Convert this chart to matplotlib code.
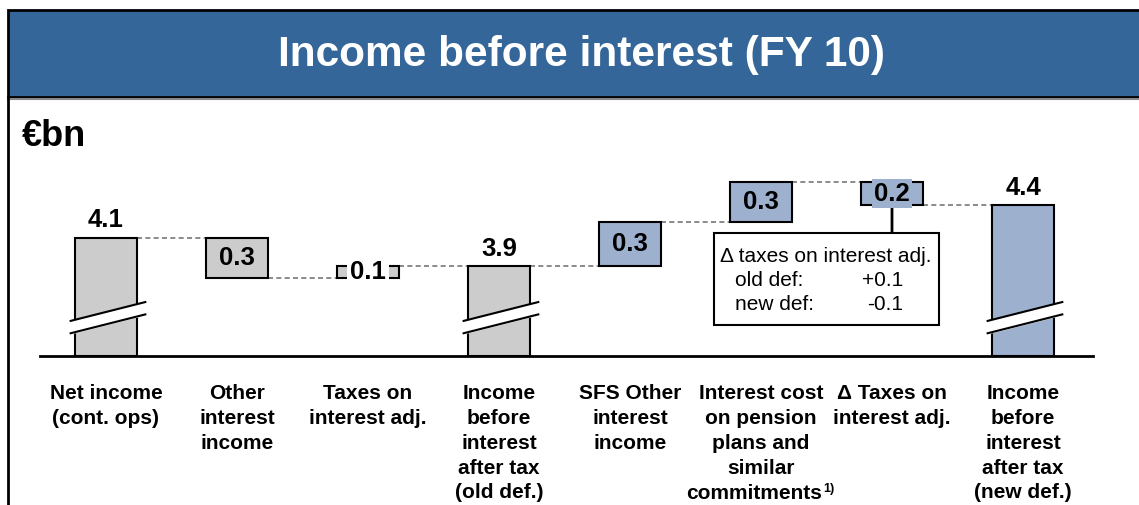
import matplotlib.pyplot as plt
import matplotlib.transforms as mtransforms
from matplotlib.patches import Rectangle, ConnectionPatch

plt.rcParams['font.family'] = ['Liberation Sans', 'DejaVu Sans']

# data (EUR bn)
categories = ['Net income\n(cont. ops)', 'Other\ninterest\nincome', 'Taxes on\ninterest adj.',
              'Income\nbefore\ninterest\nafter tax\n(old def.)', 'SFS Other\ninterest\nincome',
              'Interest cost\non pension\nplans and\nsimilar\ncommitments',
              '\u0394 Taxes on\ninterest adj.', 'Income\nbefore\ninterest\nafter tax\n(new def.)']
footnote_cat = 5
values = [4.12, -0.31, 0.09, 3.90, 0.34, 0.31, -0.18, 4.37]
is_total = [True, False, False, True, False, False, False, True]
value_labels = ['4.1', '0.3', '0.1', '3.9', '0.3', '0.3', '0.2', '4.4']
bar_colors = ['#cccccc', '#cccccc', '#cccccc', '#cccccc', '#9db0ce', '#9db0ce', '#9db0ce', '#9db0ce']
small_steps = [2, 6]   # labels drawn over the box
note_title = '\u0394 taxes on interest adj.'
note_names = ['old def:', 'new def:']
note_values = ['+0.1', '-0.1']

cut = 3.21        # axis break value
W, H = 1139, 505

fig = plt.figure(figsize=(W / 100, H / 100), dpi=100)

# header bar and frame
fig.patches.append(Rectangle((8 / W, 1 - 97 / H), 1.0, 87 / H, transform=fig.transFigure,
                             facecolor='#346699', edgecolor='black', linewidth=2))
fig.lines.append(plt.Line2D([8 / W, 1], [1 - 99 / H] * 2, transform=fig.transFigure,
                            color='#888888', linewidth=1.5))
fig.lines.append(plt.Line2D([8 / W, 8 / W], [0, 1 - 97 / H], transform=fig.transFigure,
                            color='black', linewidth=2))
fig.text(582 / W, 1 - 55 / H, 'Income before interest (FY 10)', color='white',
         fontsize=30.5, fontweight='bold', ha='center', va='center')
fig.text(22 / W, 1 - 137 / H, '\u20acbn', fontsize=26, fontweight='bold', ha='left', va='center')

step = 131.0
x0 = 106.0
ax = fig.add_axes([0, (H - 356) / H, 1, 196 / H])
ax.set_xlim(-x0 / step, (W - x0) / step)
ax.set_ylim(cut, cut + 196 / 130)
ax.axis('off')
ax.axhline(cut, xmin=40 / W, xmax=1093 / W, color='black', linewidth=2, clip_on=False)

width = 0.47
level = 0.0
tops = []
for i, v in enumerate(values):
    if is_total[i]:
        bottom, top = cut, v
        level = v
    else:
        prev = level
        level = level + v
        bottom, top = min(prev, level), max(prev, level)
    tops.append((bottom, top))
    ax.bar(i, top - bottom, bottom=bottom, width=width, color=bar_colors[i],
           edgecolor='black', linewidth=1.5, zorder=3)

    if is_total[i]:
        ax.annotate(value_labels[i], (i, top), xytext=(0, 7.5), textcoords='offset points',
                    ha='center', va='baseline', fontsize=18.5, fontweight='bold')
        # break marks
        xs = [i - 0.27, i + 0.30]
        y1 = [cut + 0.175, cut + 0.32]
        y2 = [cut + 0.27, cut + 0.415]
        ax.fill_between(xs, y1, y2, color='white', zorder=4)
        ax.plot(xs, y1, color='black', linewidth=1.5, zorder=5)
        ax.plot(xs, y2, color='black', linewidth=1.5, zorder=5)
    elif i in small_steps:
        bg = 'white' if bar_colors[i] == '#cccccc' else bar_colors[i]
        ax.text(i, (bottom + top) / 2, value_labels[i], ha='center', va='center',
                fontsize=18.5, fontweight='bold', zorder=6,
                bbox=dict(boxstyle='square,pad=0.1', facecolor=bg, edgecolor='none'))
    else:
        ax.text(i, (bottom + top) / 2, value_labels[i], ha='center', va='center',
                fontsize=18.5, fontweight='bold', zorder=6)

# dashed connectors
level = 0.0
for i in range(len(values) - 1):
    level = values[i] if is_total[i] else level + values[i]
    ax.plot([i + width / 2, i + 1 - width / 2], [level, level], color='#777777',
            linestyle=(0, (3, 2)), linewidth=1.2, zorder=2)

# category labels
lab_tr = mtransforms.blended_transform_factory(ax.transData, fig.transFigure)
for i, c in enumerate(categories):
    if i == footnote_cat:
        lines = c.split('\n')
        ax.text(i, 1 - 384 / H, '\n'.join(lines[:-1]), transform=lab_tr, ha='center', va='top',
                fontsize=15, fontweight='bold', linespacing=1.39)
        shift = lab_tr + mtransforms.ScaledTranslation(-7 / 100, 0, fig.dpi_scale_trans)
        last = ax.text(i, 1 - 484 / H, lines[-1], transform=shift, ha='center', va='top',
                       fontsize=15, fontweight='bold')
        ax.annotate('1)', xy=(1, 0), xycoords=last, xytext=(1, 6), textcoords='offset points',
                    ha='left', va='bottom', fontsize=9, fontweight='bold')
    else:
        ax.text(i, 1 - 384 / H, c, transform=lab_tr, ha='center', va='top', fontsize=15,
                fontweight='bold', linespacing=1.39)

# note box for delta taxes
fig.patches.append(Rectangle((714 / W, 1 - 325 / H), 225 / W, 92 / H, transform=fig.transFigure,
                             facecolor='white', edgecolor='black', linewidth=1.5, zorder=5))
b, t = tops[6]
con = ConnectionPatch(xyA=(6, (b + t) / 2), coordsA=ax.transData,
                      xyB=(6, 1 - 233 / H), coordsB=lab_tr,
                      color='black', linewidth=2, zorder=5)
ax.add_artist(con)
fig.text(720 / W, 1 - 257 / H, note_title, ha='left', va='center', fontsize=15, zorder=7)
for k in range(2):
    yk = 1 - (281 + 24 * k) / H
    fig.text(735 / W, yk, note_names[k], ha='left', va='center', fontsize=15, zorder=7)
    fig.text(903 / W, yk, note_values[k], ha='right', va='center', fontsize=15, zorder=7)

fig.savefig('out.png', dpi=100)
